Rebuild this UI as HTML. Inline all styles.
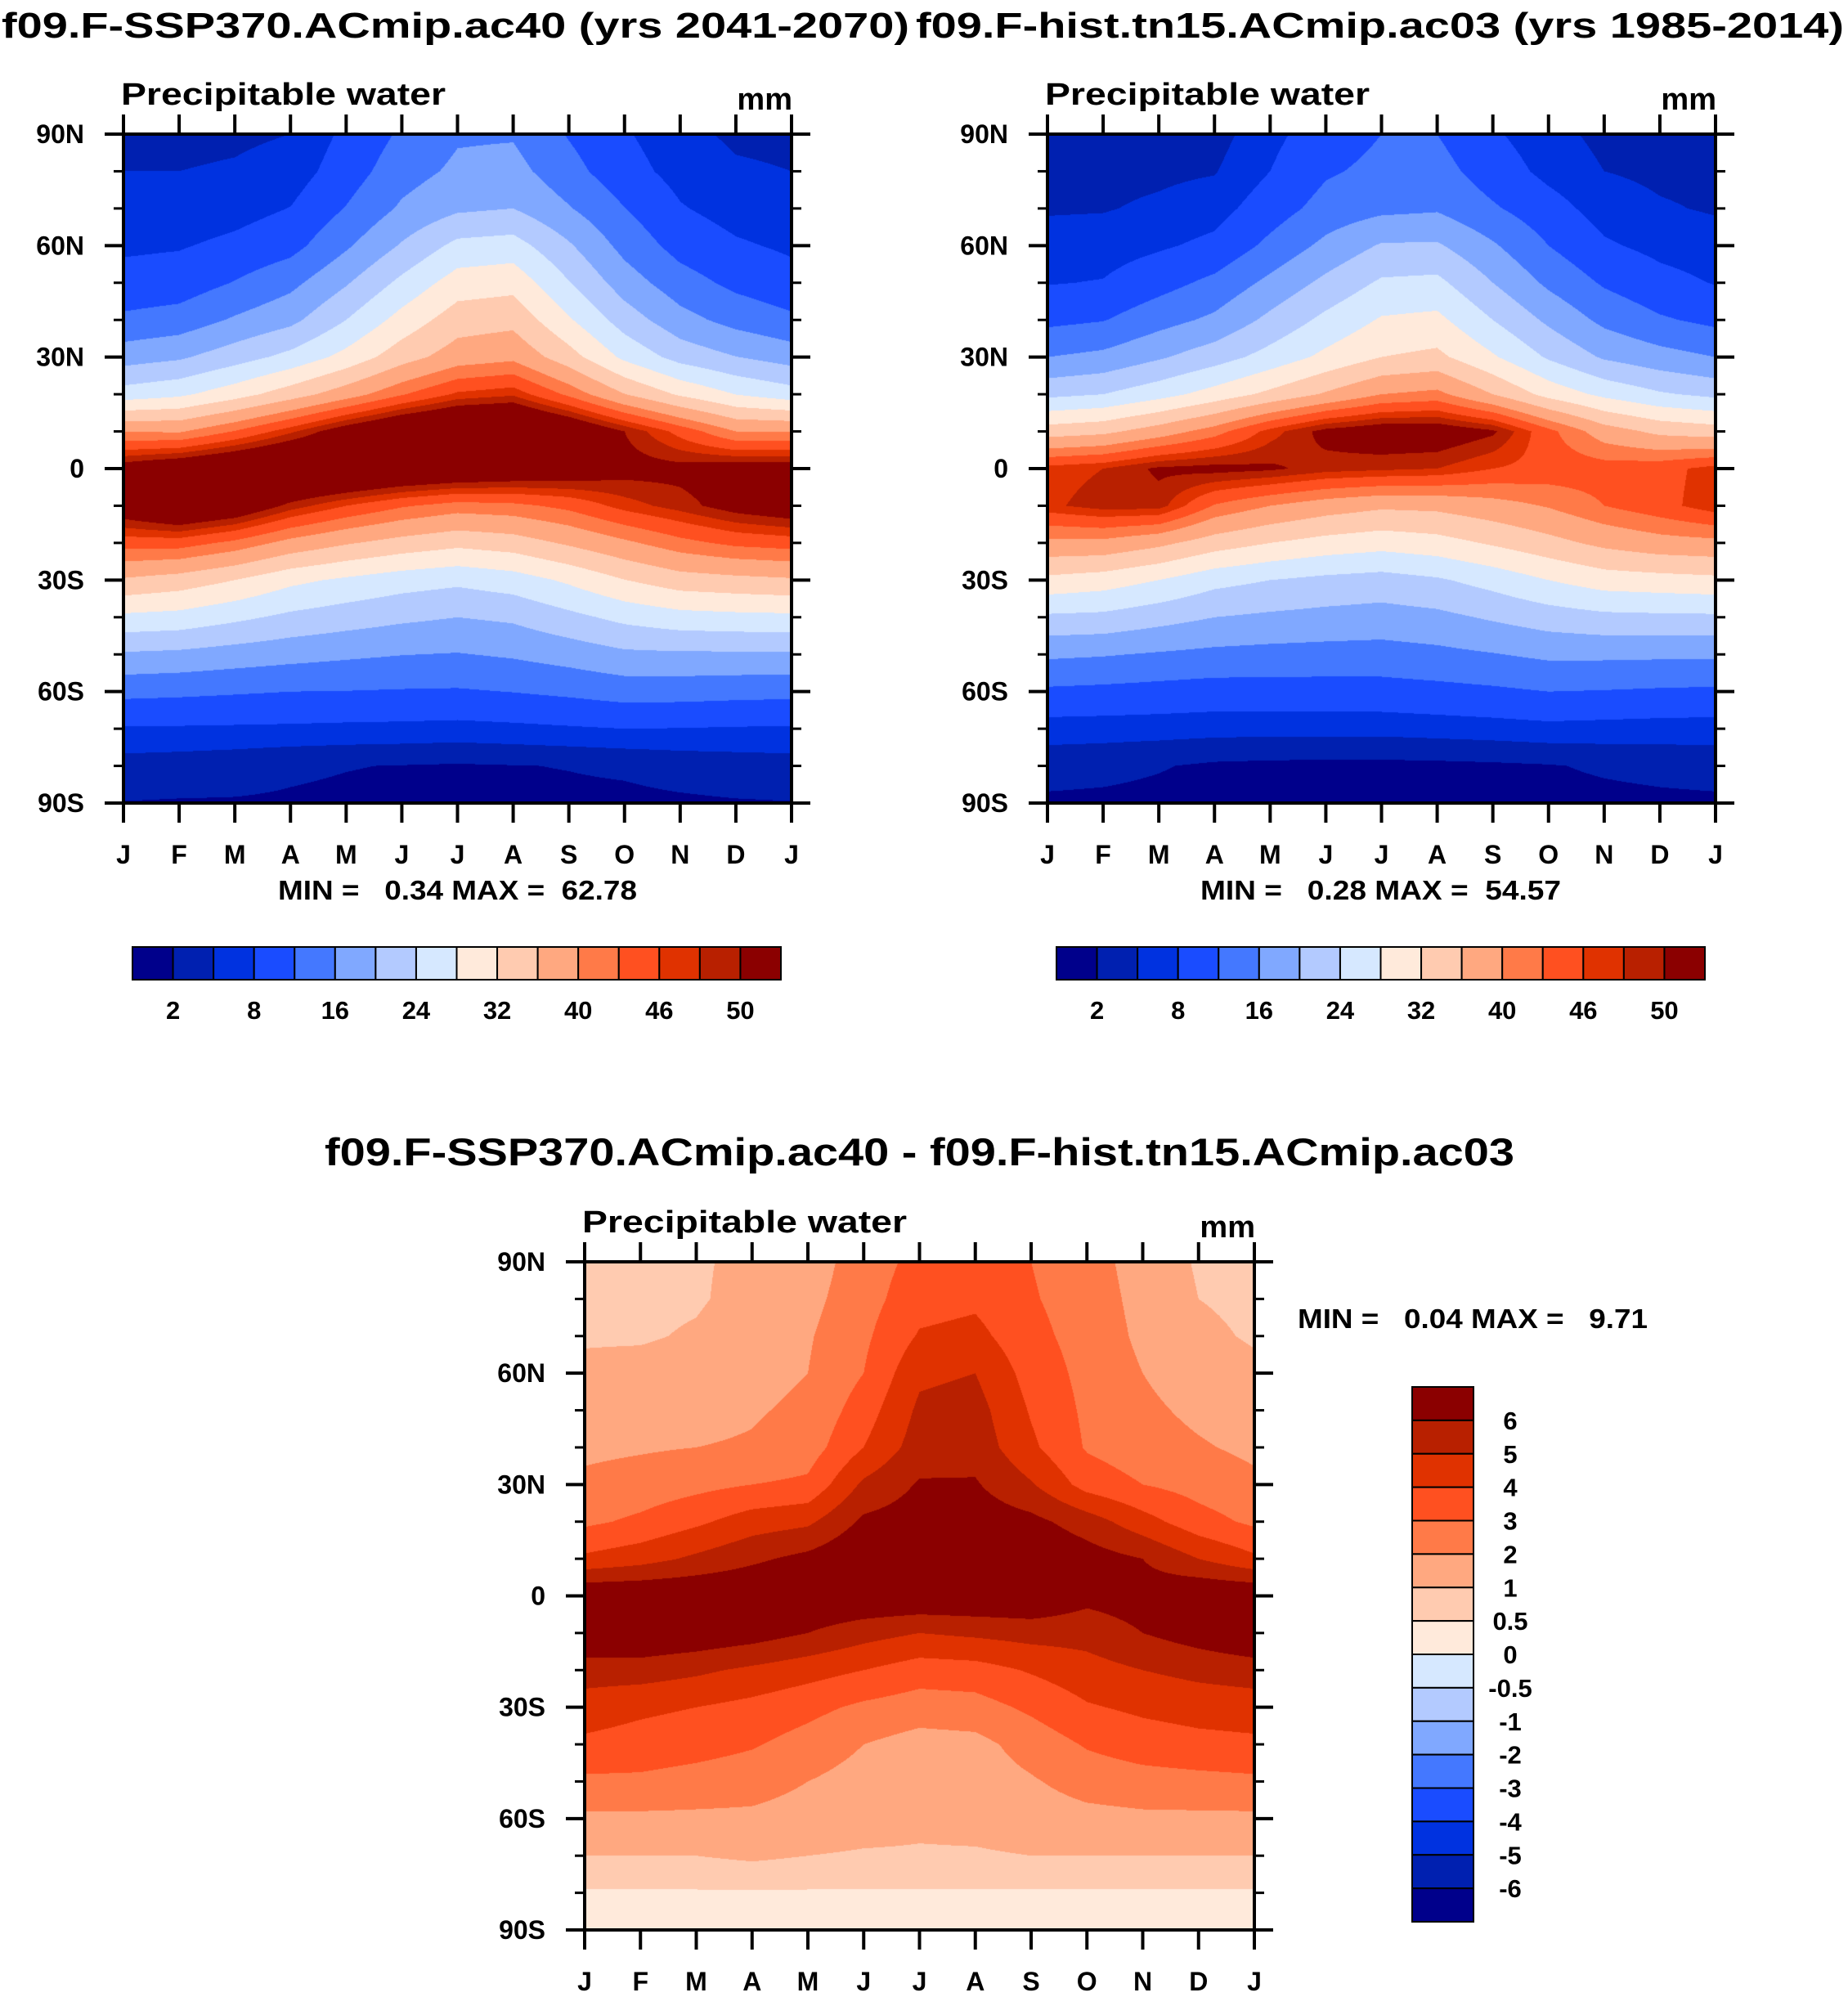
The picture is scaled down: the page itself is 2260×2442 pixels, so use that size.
<!DOCTYPE html>
<html><head><meta charset="utf-8">
<style>
html,body{margin:0;padding:0;background:#fff;}
#root{position:relative;width:2260px;height:2442px;overflow:hidden;}
canvas{position:absolute;}
svg{position:absolute;left:0;top:0;}
text{font-family:"Liberation Sans",Arial,sans-serif;font-weight:bold;fill:#000;white-space:pre;}
</style></head>
<body>
<div id="root">
<canvas id="cA" width="817" height="818" style="left:151px;top:164px"></canvas>
<canvas id="cB" width="817" height="818" style="left:1281px;top:164px"></canvas>
<canvas id="cD" width="819" height="817" style="left:715px;top:1543px"></canvas>
<svg id="ov" width="2260" height="2442"></svg>
</div>
<script>
const lats = [90,80,70,60,50,40,30,20,10,0,-10,-20,-30,-40,-50,-60,-70,-80,-90];
const months = ["J","F","M","A","M","J","J","A","S","O","N","D","J"];
const latTicks = ["90N","60N","30N","0","30S","60S","90S"];
const absLevels = [2,5,8,12,16,20,24,28,32,36,40,43,46,48,50];
const absLabels = ["2","8","16","24","32","40","46","50"];
const diffLevels = [-6,-5,-4,-3,-2,-1,-0.5,0,0.5,1,2,3,4,5,6];
const diffLabels = ["-6","-5","-4","-3","-2","-1","-0.5","0","0.5","1","2","3","4","5","6"];
const palette = ["#00008b","#0020b0","#0032e0","#1a4cff","#4478ff","#80a8ff","#b3caff","#d6e8ff","#ffeadb","#ffcbb0","#ffa880","#ff7a48","#ff5020","#e03200","#b82000","#8b0000"];

const sspJan=[4.3,5,5.6,7.4,9.3,12.8,18.2,25.8,40,52,53,44.5,35.5,27.1,19.5,13.1,7.6,3.7,1.9];
const sspFeb=[4.3,5,5.7,7.7,9.8,13.7,19.4,27.2,39.6,54,56,44.5,34.2,26.6,19.1,12.8,7.6,3.4,1.8];
const sspMar=[4.5,5.3,6.6,8.9,12.2,16.5,22.2,30.3,43.2,56,53.8,42.2,32,24.9,18.2,12.4,7.5,3,1.8];
const sspApr=[5,6.1,8.1,10.6,14.9,18.9,25.2,34.1,47.5,58,49.2,38.8,29,23.1,17.4,12,7.4,2.4,1.7];
const sspMay=[8.8,10,12.2,15.4,19.6,24,29.3,38.2,52.3,57.5,46,36.4,27.3,21.9,16.7,11.9,7.2,2.1,1.5];
const sspJun=[12.6,14.3,16.6,20.4,25,29.5,34.3,42.7,56,56,43.4,34.5,25.8,20.8,16.1,11.7,7.1,1.9,1.3];
const sspJul=[15.5,16.8,19.3,25.1,29.9,34.1,38,46.5,58,55,41.7,33.1,24.9,20,15.8,11.6,6.9,1.7,1.2];
const sspAug=[15.6,17.4,20,25.7,30.6,34.8,39.1,47.6,58.5,54,42.2,34.1,26.1,20.7,16.5,12.1,7.2,1.9,1.3];
const sspSep=[11.7,13.4,16.3,20.5,24.2,28.5,33.7,42.3,55,53,43.9,36.6,28.7,22.9,17.7,12.8,7.6,2.1,1.4];
const sspOct=[8.4,9.5,12.1,14.7,18,22.1,27.1,36.1,50,51.3,47,39.3,31.9,25.1,19.2,13.7,8,2.4,1.4];
const sspNov=[5.8,6.7,8.3,10.5,13.7,17.4,22.5,31.4,45,51,49,42,34.2,26.5,19.4,13.6,7.9,3,1.6];
const sspDec=[4.5,5.4,6.5,8.5,11,14.6,20.1,27.9,40,52,51.5,43.8,34.9,26.9,19.4,13.3,7.7,3.4,1.8];

const histJan=[3.5,4.2,4.7,6.2,7.8,11,16,23,34,47,47.5,39,31,23.3,16.7,11.3,6.5,3.1,1.5];
const histFeb=[3.5,4.2,4.8,6.4,8.2,11.8,17,24,35,48,49,39,30,23,16.3,11,6.4,2.8,1.4];
const histMar=[3.6,4.4,5.5,7.5,10.5,14.5,19.5,26.5,38,50.5,49,37,28,21.5,15.6,10.6,6.3,2.2,1.2];
const histApr=[3.8,4.8,6.6,8.9,13,16.8,22.2,29.6,41.7,51,42.7,34,25.3,20,15,10.2,6.1,1.5,1];
const histMay=[7,8,10,13,17,21,25.5,33,47,50.5,40,32,24,19.3,14.7,10.3,6,1.3,0.9];
const histJun=[10,11.5,13.5,17,21,25,29,36.5,51,49,38,30.5,23,18.8,14.5,10.3,6,1.2,0.8];
const histJul=[12,13,15,20.4,24.6,28.4,32,40,52.5,48.5,36.7,29.6,22.4,18.4,14.4,10.4,6,1.2,0.8];
const histAug=[12,13.5,15.5,20.5,25,29,33,41,52.5,48,37,30.5,23.5,19,15,10.8,6.3,1.3,0.8];
const histSep=[8.5,10,12.5,16.5,20,24,28.5,36,50.5,46,38.5,32.5,25.5,20.5,15.8,11.3,6.6,1.5,0.9];
const histOct=[6,7,9.5,12,15.2,19.2,23.5,30.6,44,45,40.3,34.7,28,22,16.8,12,7,1.8,1];
const histNov=[4.2,5,6.5,8.5,11.5,15,19.5,27,38,44.5,43,37,30,23,16.8,11.8,6.8,2.4,1.2];
const histDec=[3.6,4.4,5.3,7,9.2,12.5,17.5,24.5,35,45,45,38.5,30.5,23.2,16.7,11.5,6.6,2.8,1.4];

const diffJan=[0.8,0.8,0.9,1.2,1.5,1.8,2.2,2.8,4.2,7,7,5.5,4.5,3.8,2.8,1.8,1,0.45,0.3];
const diffFeb=[0.8,0.8,0.9,1.3,1.6,1.9,2.4,3.2,4.6,7,7,5.5,4.2,3.6,2.8,1.8,1,0.45,0.3];
const diffMar=[0.9,0.9,1.1,1.4,1.7,2,2.7,3.8,5.2,7,6.8,5.2,4,3.4,2.6,1.8,1,0.45,0.3];
const diffApr=[1.2,1.3,1.5,1.7,1.9,2.1,3,4.5,5.8,7,6.5,4.8,3.7,3.1,2.4,1.8,1.1,0.45,0.3];
const diffMay=[1.5,1.7,1.9,2,2.2,2.5,3.2,4.8,6.3,7,6,4.4,3.3,2.6,2,1.6,1,0.45,0.3];
const diffJun=[2.5,2.6,2.8,3,3.5,4,5.2,6.2,7,7,5.4,4,2.8,2,1.6,1.4,0.9,0.45,0.3];
const diffJul=[3.3,3.6,4.1,4.8,5.2,5.5,6.1,6.5,7,7,5,3.5,2.5,1.6,1.4,1.2,0.9,0.45,0.3];
const diffAug=[3.5,3.8,4.3,5,5.4,5.6,6.1,6.6,7,7,5.2,3.6,2.6,1.7,1.5,1.3,0.9,0.45,0.3];
const diffSep=[3,3.1,3.3,3.6,3.9,4.2,5.1,6.3,7,7,5.4,4.1,3.2,2.4,1.9,1.5,1,0.45,0.3];
const diffOct=[2.4,2.5,2.6,2.7,2.8,2.9,3.6,5.5,6.5,6.3,5.4,4.6,3.9,3.1,2.4,1.7,1,0.45,0.3];
const diffNov=[1.6,1.7,1.8,2,2.2,2.4,3,4.4,6,6.5,6,5,4.2,3.5,2.6,1.8,1,0.45,0.3];
const diffDec=[0.9,1,1.2,1.5,1.8,2.1,2.6,3.4,5,7,6.5,5.3,4.4,3.7,2.7,1.8,1,0.45,0.3];

const sspField=[sspJan,sspFeb,sspMar,sspApr,sspMay,sspJun,sspJul,sspAug,sspSep,sspOct,sspNov,sspDec];
const histField=[histJan,histFeb,histMar,histApr,histMay,histJun,histJul,histAug,histSep,histOct,histNov,histDec];
const diffField=[diffJan,diffFeb,diffMar,diffApr,diffMay,diffJun,diffJul,diffAug,diffSep,diffOct,diffNov,diffDec];

function hex(c){return [parseInt(c.slice(1,3),16),parseInt(c.slice(3,5),16),parseInt(c.slice(5,7),16)];}
const rgb=palette.map(hex);
function levelIndex(v,levels){let i=0;while(i<levels.length&&v>=levels[i])i++;return i;}
function drawField(id,field,levels){
  const cv=document.getElementById(id),ctx=cv.getContext('2d');
  const W=cv.width,H=cv.height,img=ctx.createImageData(W,H);
  const nr=lats.length, nm=field.length;
  for(let py=0;py<H;py++){
    const lat=90-180*(py+0.5)/H;
    let r=(lats[0]-lat)/(lats[0]-lats[1]); if(r<0)r=0; if(r>nr-1)r=nr-1;
    const r0=Math.min(Math.floor(r),nr-2), fr=r-r0;
    for(let px=0;px<W;px++){
      const m=nm*(px+0.5)/W, c0=Math.floor(m)%nm, c1=(c0+1)%nm, fc=m-Math.floor(m);
      const a=field[c0][r0]*(1-fr)+field[c0][r0+1]*fr;
      const b=field[c1][r0]*(1-fr)+field[c1][r0+1]*fr;
      const v=a*(1-fc)+b*fc;
      const col=rgb[levelIndex(v,levels)], k=4*(py*W+px);
      img.data[k]=col[0];img.data[k+1]=col[1];img.data[k+2]=col[2];img.data[k+3]=255;
    }
  }
  ctx.putImageData(img,0,0);
}
drawField('cA',sspField,absLevels);
drawField('cB',histField,absLevels);
drawField('cD',diffField,diffLevels);

const NS='http://www.w3.org/2000/svg', ov=document.getElementById('ov');
function mk(tag,attrs,parent){const e=document.createElementNS(NS,tag);for(const k in attrs)e.setAttribute(k,attrs[k]);(parent||ov).appendChild(e);return e;}
function txt(s,x,y,size,anchor,len,parent){const t=mk('text',{x:x,y:y,'font-size':size,'text-anchor':anchor||'start'},parent);if(len){t.setAttribute('textLength',len);t.setAttribute('lengthAdjust','spacingAndGlyphs');}t.textContent=s;return t;}

function panel(name,x0,y0,W,H,labelRight){
  const g=mk('g',{});
  
  
  mk('rect',{x:x0,y:y0,width:W,height:H,fill:'none',stroke:'#000','stroke-width':4},g);
  for(let lat=90;lat>=-90;lat-=10){
    const y=y0+(90-lat)/180*H, major=(lat%30===0), L=major?23:12;
    mk('line',{x1:x0-L,y1:y,x2:x0,y2:y,stroke:'#000','stroke-width':major?4:3},g);
    mk('line',{x1:x0+W,y1:y,x2:x0+W+L,y2:y,stroke:'#000','stroke-width':major?4:3},g);
  }
  latTicks.forEach((s,i)=>{
    const y=y0+i*H/(latTicks.length-1);
    const t=txt(s,labelRight,y+11,32,'end',null,g);
    
    
  });
  months.forEach((s,i)=>{
    const x=x0+i*W/(months.length-1);
    mk('line',{x1:x,y1:y0-24,x2:x,y2:y0,stroke:'#000','stroke-width':4},g);
    mk('line',{x1:x,y1:y0+H,x2:x,y2:y0+H+24,stroke:'#000','stroke-width':4},g);
    const t=txt(s,x,y0+H+74,32,'middle',null,g);
    
    
  });
  const p=txt('Precipitable water',x0-3,y0-36,38,'start',397,g);
  
  
  const u=txt('mm',x0+W+1,y0-30,38,'end',null,g);
  
  
}
panel('ssp370',151,164,817,818,103);
panel('hist',1281,164,817,818,1233);
panel('diff',715,1543,819,817,667);

let t;
t=txt('f09.F-SSP370.ACmip.ac40 (yrs 2041-2070)',2,46,44,'start',1110);


t=txt('f09.F-hist.tn15.ACmip.ac03 (yrs 1985-2014)',1120,46,44,'start',1135);


t=txt('f09.F-SSP370.ACmip.ac40 - f09.F-hist.tn15.ACmip.ac03',397,1425,47,'start',1455);


t=txt('MIN =   0.34 MAX =  62.78',340,1100,33,'start',439);


t=txt('MIN =   0.28 MAX =  54.57',1468,1100,33,'start',441);


t=txt('MIN =   0.04 MAX =   9.71',1587,1624,33,'start',428);



function hbar(name,x0,y0,W,H){
  const g=mk('g',{});
  
  
  const n=palette.length, bw=W/n;
  palette.forEach((c,i)=>{
    const r=mk('rect',{x:x0+i*bw,y:y0,width:bw,height:H,fill:c,stroke:'#000','stroke-width':2},g);
    
    
  });
  absLabels.forEach((s,i)=>{
    const x=x0+(2*i+1)*bw;
    const l=txt(s,x,y0+H+48,31,'middle',null,g);
    
    
  });
}
hbar('ssp370-colorbar',162,1158,793,40);
hbar('hist-colorbar',1292,1158,793,40);

(function(){
  const g=mk('g',{});
  
  
  const x0=1727,y0=1696,W=75,H=654,n=palette.length,bh=H/n;
  for(let i=0;i<n;i++){
    const r=mk('rect',{x:x0,y:y0+i*bh,width:W,height:bh,fill:palette[n-1-i],stroke:'#000','stroke-width':2},g);
    
    
  }
  const m=diffLabels.length;
  for(let k=0;k<m;k++){
    const y=y0+(k+1)*bh;
    const l=txt(diffLabels[m-1-k],1847,y+11,31,'middle',null,g);
    
    
  }
})();
</script>
</body></html>
